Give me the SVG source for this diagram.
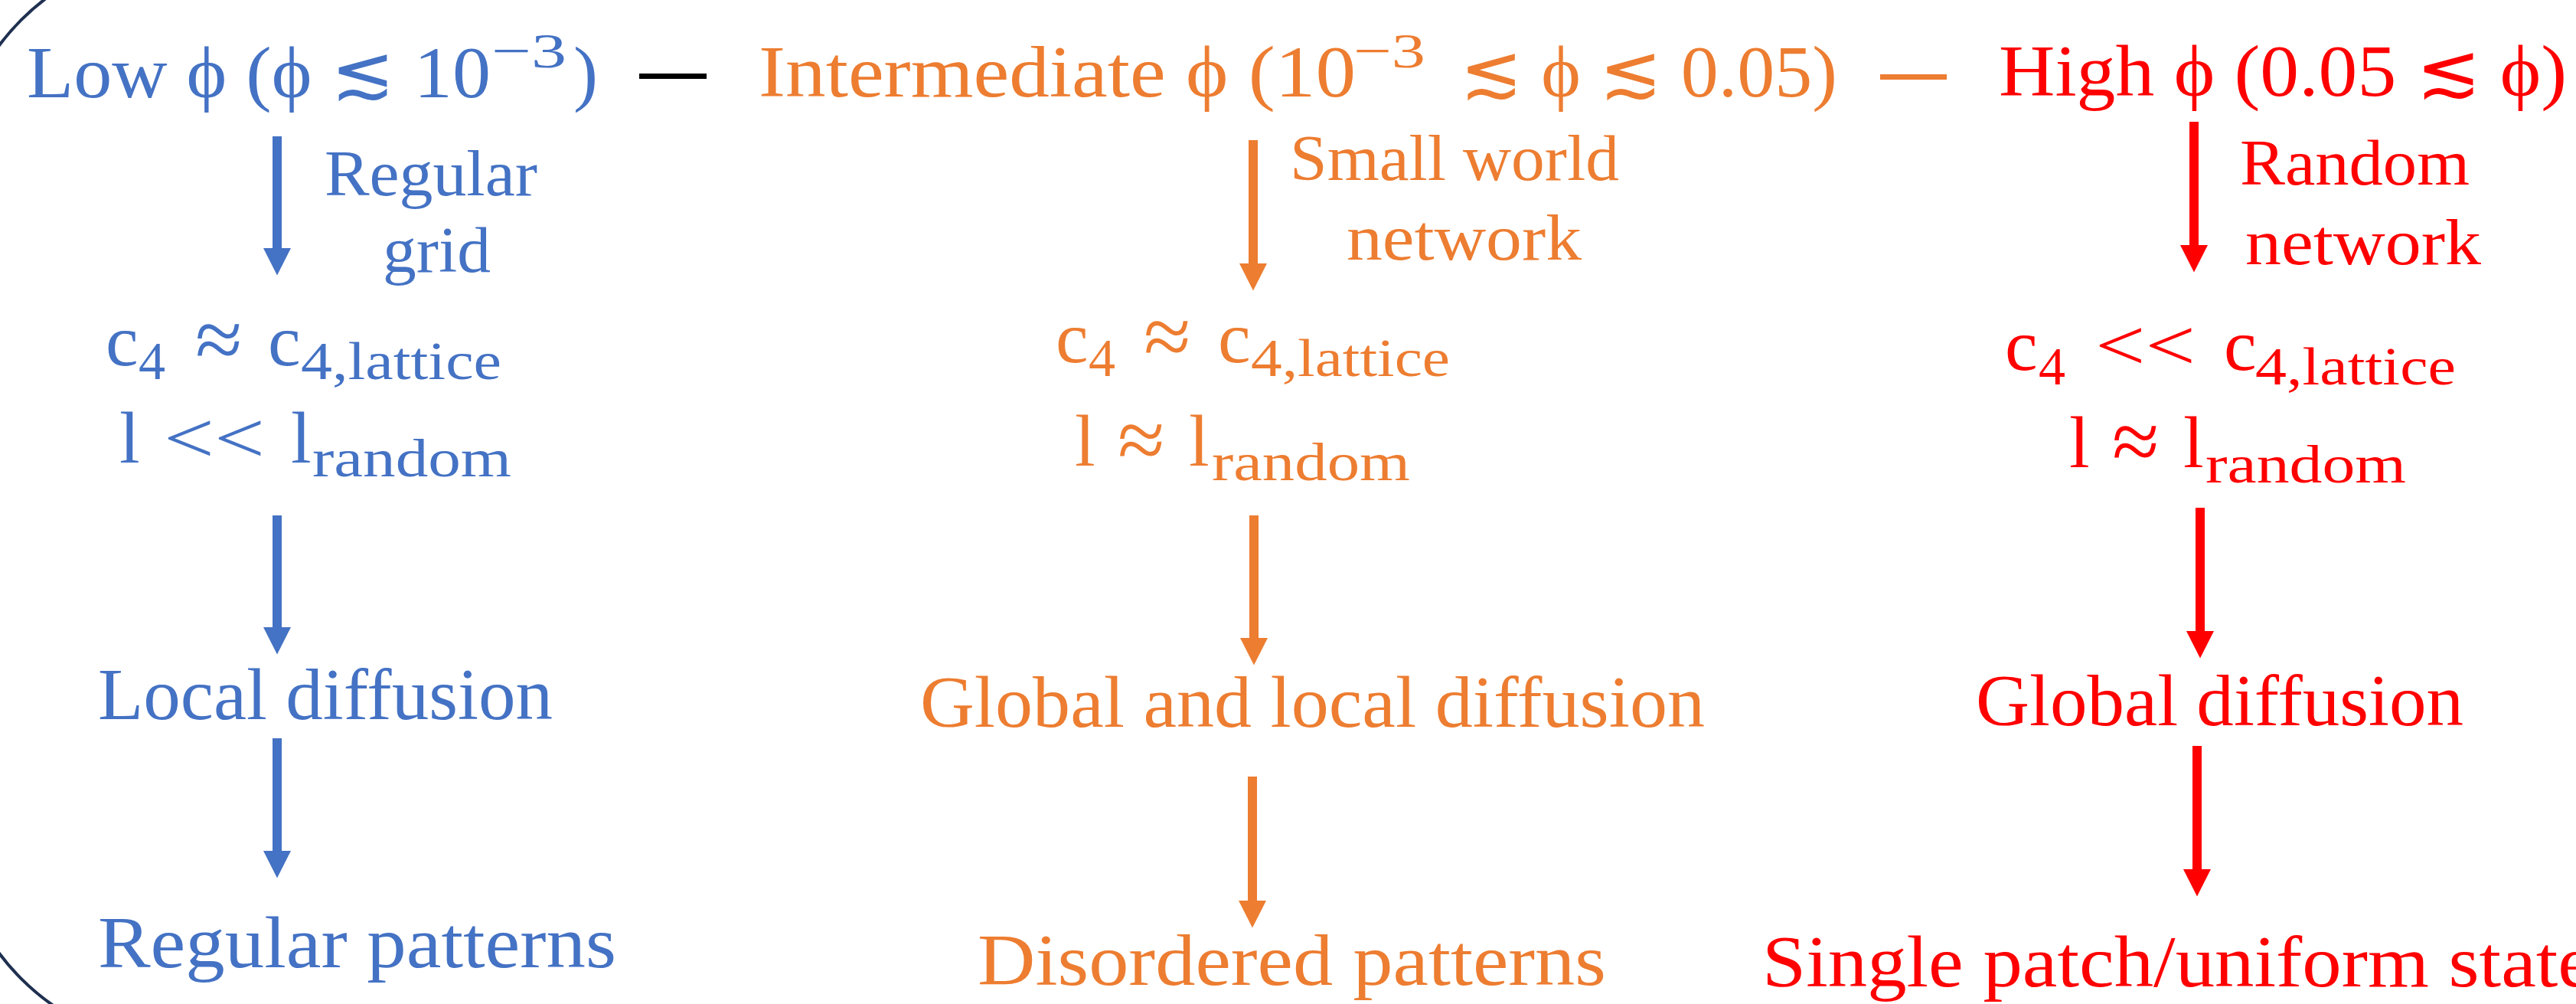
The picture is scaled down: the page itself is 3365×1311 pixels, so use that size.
<svg xmlns="http://www.w3.org/2000/svg" width="3365" height="1311" viewBox="0 0 3365 1311">
<style>
text{font-family:"Liberation Serif","DejaVu Serif",serif;font-size:96px}
.le{font-family:"DejaVu Serif","Liberation Serif",serif}
.s{font-size:70px}
.sup{font-size:64px}
.lab{font-size:84px}
.ap{font-size:112px}
.b{fill:#4472C4}
.o{fill:#ED7D31}
.r{fill:#FF0000}
.ab{stroke:#4472C4;stroke-width:12;fill:none}
.ao{stroke:#ED7D31;stroke-width:12;fill:none}
.ar{stroke:#FF0000;stroke-width:12;fill:none}
</style>
<defs>
<marker id="hb" viewBox="0 0 3 3" markerWidth="3" markerHeight="3" refX="0" refY="1.5" orient="auto" markerUnits="strokeWidth"><path d="M0,0 L2.95,1.5 L0,3 Z" fill="#4472C4"/></marker>
<marker id="ho" viewBox="0 0 3 3" markerWidth="3" markerHeight="3" refX="0" refY="1.5" orient="auto" markerUnits="strokeWidth"><path d="M0,0 L2.95,1.5 L0,3 Z" fill="#ED7D31"/></marker>
<marker id="hr" viewBox="0 0 3 3" markerWidth="3" markerHeight="3" refX="0" refY="1.5" orient="auto" markerUnits="strokeWidth"><path d="M0,0 L2.95,1.5 L0,3 Z" fill="#FF0000"/></marker>
</defs>
<rect width="3365" height="1311" fill="#ffffff"/>
<rect id="frame" x="-60" y="-62" width="4200" height="1428" rx="300" ry="300" fill="none" stroke="#1F3050" stroke-width="4"/>

<g id="title-low" class="b">
<text x="35" y="127" textLength="606" lengthAdjust="spacingAndGlyphs">Low ϕ (ϕ <tspan class="le">≲</tspan> 10</text>
<text class="sup" x="642" y="88" textLength="98" lengthAdjust="spacingAndGlyphs">−3</text>
<text x="749" y="127">)</text>
</g>
<rect id="dash-1" x="835" y="96" width="88" height="7" fill="#000000"/>
<g id="title-mid" class="o">
<text x="991" y="126" textLength="780" lengthAdjust="spacingAndGlyphs">Intermediate ϕ (10</text>
<text class="sup" x="1768" y="88" textLength="94" lengthAdjust="spacingAndGlyphs">−3</text>
<text x="1907" y="126" textLength="493" lengthAdjust="spacingAndGlyphs"><tspan class="le">≲</tspan> ϕ <tspan class="le">≲</tspan> 0.05)</text>
</g>
<rect id="dash-2" x="2456" y="97" width="87" height="7" fill="#ED7D31"/>
<g id="title-high" class="r">
<text x="2611" y="125" textLength="742" lengthAdjust="spacingAndGlyphs">High ϕ (0.05 <tspan class="le">≲</tspan> ϕ)</text>
</g>

<g id="label-low" class="b">
<text class="lab" x="424" y="255" textLength="278" lengthAdjust="spacingAndGlyphs">Regular</text>
<text class="lab" x="500" y="355" textLength="141" lengthAdjust="spacingAndGlyphs">grid</text>
</g>
<g id="label-mid" class="o">
<text class="lab" x="1685" y="235" textLength="430" lengthAdjust="spacingAndGlyphs">Small world</text>
<text class="lab" x="1759" y="339" textLength="307" lengthAdjust="spacingAndGlyphs">network</text>
</g>
<g id="label-high" class="r">
<text class="lab" x="2926" y="241" textLength="300" lengthAdjust="spacingAndGlyphs">Random</text>
<text class="lab" x="2933" y="345" textLength="308" lengthAdjust="spacingAndGlyphs">network</text>
</g>

<g id="metrics-low" class="b">
<text x="138" y="477">c</text>
<text class="s" x="181" y="495">4</text>
<text class="ap" x="255" y="481">≈</text>
<text x="350" y="477">c</text>
<text class="s" x="393" y="495" textLength="262" lengthAdjust="spacingAndGlyphs">4,lattice</text>
<text x="156" y="604">l</text>
<text x="214" y="604" textLength="132" lengthAdjust="spacingAndGlyphs">&lt;&lt;</text>
<text x="380" y="604">l</text>
<text class="s" x="408" y="622" textLength="260" lengthAdjust="spacingAndGlyphs">random</text>
</g>
<g id="metrics-mid" class="o">
<text x="1379" y="473">c</text>
<text class="s" x="1422" y="491">4</text>
<text class="ap" x="1494" y="477">≈</text>
<text x="1591" y="473">c</text>
<text class="s" x="1634" y="491" textLength="260" lengthAdjust="spacingAndGlyphs">4,lattice</text>
<text x="1404" y="608">l</text>
<text class="ap" x="1460" y="612">≈</text>
<text x="1553" y="608">l</text>
<text class="s" x="1583" y="627" textLength="259" lengthAdjust="spacingAndGlyphs">random</text>
</g>
<g id="metrics-high" class="r">
<text x="2619" y="483">c</text>
<text class="s" x="2663" y="502">4</text>
<text x="2737" y="483" textLength="131" lengthAdjust="spacingAndGlyphs">&lt;&lt;</text>
<text x="2905" y="483">c</text>
<text class="s" x="2946" y="502" textLength="262" lengthAdjust="spacingAndGlyphs">4,lattice</text>
<text x="2703" y="610">l</text>
<text class="ap" x="2759" y="614">≈</text>
<text x="2852" y="610">l</text>
<text class="s" x="2881" y="630" textLength="262" lengthAdjust="spacingAndGlyphs">random</text>
</g>

<g id="diffusion-low" class="b"><text x="128" y="939" textLength="594" lengthAdjust="spacingAndGlyphs">Local diffusion</text></g>
<g id="diffusion-mid" class="o"><text x="1202" y="949" textLength="1025" lengthAdjust="spacingAndGlyphs">Global and local diffusion</text></g>
<g id="diffusion-high" class="r"><text x="2581" y="947" textLength="637" lengthAdjust="spacingAndGlyphs">Global diffusion</text></g>

<g id="pattern-low" class="b"><text x="128" y="1263" textLength="677" lengthAdjust="spacingAndGlyphs">Regular patterns</text></g>
<g id="pattern-mid" class="o"><text x="1277" y="1286" textLength="821" lengthAdjust="spacingAndGlyphs">Disordered patterns</text></g>
<g id="pattern-high" class="r"><text x="2302" y="1288" textLength="1085" lengthAdjust="spacingAndGlyphs">Single patch/uniform state</text></g>

<g id="connectors">
<path class="ab" d="M362,178 V324" marker-end="url(#hb)"/>
<path class="ab" d="M362,673 V819" marker-end="url(#hb)"/>
<path class="ab" d="M362,964 V1111" marker-end="url(#hb)"/>
<path class="ao" d="M1637,183 V344" marker-end="url(#ho)"/>
<path class="ao" d="M1638,673 V833" marker-end="url(#ho)"/>
<path class="ao" d="M1636,1014 V1176" marker-end="url(#ho)"/>
<path class="ar" d="M2866,159 V320" marker-end="url(#hr)"/>
<path class="ar" d="M2874,663 V824" marker-end="url(#hr)"/>
<path class="ar" d="M2870,974 V1135" marker-end="url(#hr)"/>
</g>
</svg>
